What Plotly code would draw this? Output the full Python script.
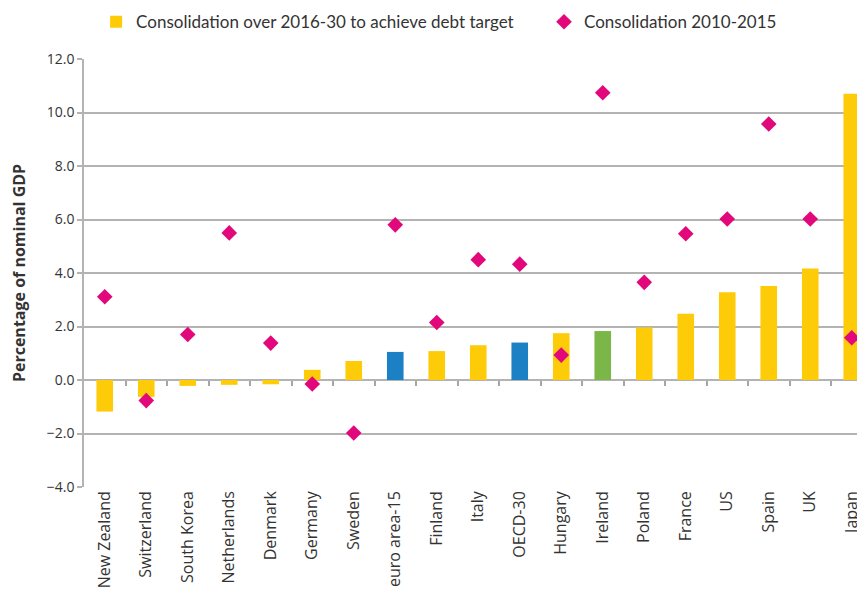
import plotly.graph_objects as go

categories = ["New Zealand", "Switzerland", "South Korea", "Netherlands", "Denmark",
              "Germany", "Sweden", "euro area-15", "Finland", "Italy", "OECD-30",
              "Hungary", "Ireland", "Poland", "France", "US", "Spain", "UK", "Japan"]
consolidation_2016_30 = [-1.18, -0.63, -0.22, -0.18, -0.16, 0.38, 0.71, 1.05, 1.08, 1.30,
                         1.40, 1.75, 1.83, 1.96, 2.48, 3.28, 3.51, 4.17, 10.70]
consolidation_2010_15 = [3.11, -0.77, 1.70, 5.50, 1.38, -0.15, -1.98, 5.80, 2.15, 4.50,
                         4.33, 0.93, 10.74, 3.65, 5.47, 6.02, 9.57, 6.02, 1.58]
y_ticks = [-4, -2, 0, 2, 4, 6, 8, 10, 12]

YELLOW = "#FDCB08"
BLUE = "#1B80C4"
GREEN = "#7AB648"
PINK = "#E2077B"
bar_colors = [BLUE if c in ("euro area-15", "OECD-30") else GREEN if c == "Ireland" else YELLOW
              for c in categories]

fig = go.Figure()
fig.add_trace(go.Bar(
    x=categories, y=consolidation_2016_30, name="Consolidation over 2016-30 to achieve debt target",
    marker=dict(color=bar_colors, line=dict(width=0)), width=0.4, legend="legend",
))
fig.add_trace(go.Scatter(
    x=categories, y=consolidation_2010_15, name="Consolidation 2010-2015", mode="markers",
    marker=dict(symbol="diamond", size=12, color=PINK), legend="legend2",
))
# invisible trace to hold the tick axis at y=0
fig.add_trace(go.Scatter(x=[0], y=[0], xaxis="x2", mode="markers",
                         marker=dict(opacity=0), showlegend=False, hoverinfo="skip"))

n = len(categories)
xmax = -0.5 + 781 / 41.5
legend_font = dict(family="Lato, sans-serif", size=17, color="#333333")
fig.update_layout(
    width=857, height=593,
    margin=dict(l=76, r=0, t=51, b=114, autoexpand=False),
    plot_bgcolor="white", paper_bgcolor="white",
    font=dict(family="Open Sans, sans-serif", size=14, color="#333333"),
    bargap=0.6,
    showlegend=True,
    legend=dict(orientation="h", x=0.0155, y=1.086, xanchor="left", yanchor="middle",
                font=legend_font, itemsizing="constant"),
    legend2=dict(orientation="h", x=0.589, y=1.086, xanchor="left", yanchor="middle",
                 font=legend_font, itemsizing="constant"),
    xaxis=dict(range=[-0.5, xmax], showgrid=False, tickangle=-90, ticks="",
               showline=False, zeroline=False, tickfont=dict(size=16), automargin=False,
               categoryorder="array", categoryarray=categories),
    xaxis2=dict(overlaying="x", anchor="free", position=0.25, range=[-0.5, xmax],
                tickvals=[i + 0.5 for i in range(n)], ticks="outside", ticklen=5,
                tickcolor="#A6A6A6", tickwidth=1.5, showticklabels=False,
                showgrid=False, zeroline=False, showline=False, side="bottom"),
    yaxis=dict(range=[-4, 12], tickvals=y_ticks, tickformat=".1f", automargin=False,
               gridcolor="#B3B3B3", gridwidth=1.5, zeroline=True, zerolinecolor="#B3B3B3",
               zerolinewidth=1.5, showline=True, linecolor="#B3B3B3", linewidth=1.5,
               ticks="outside", ticklen=5, tickcolor="#B3B3B3", tickwidth=1.5,
               tickfont=dict(size=14),
               title=dict(text="<b>Percentage of nominal GDP</b>", font=dict(size=16), standoff=24)),
)
fig.write_html("out.html")
